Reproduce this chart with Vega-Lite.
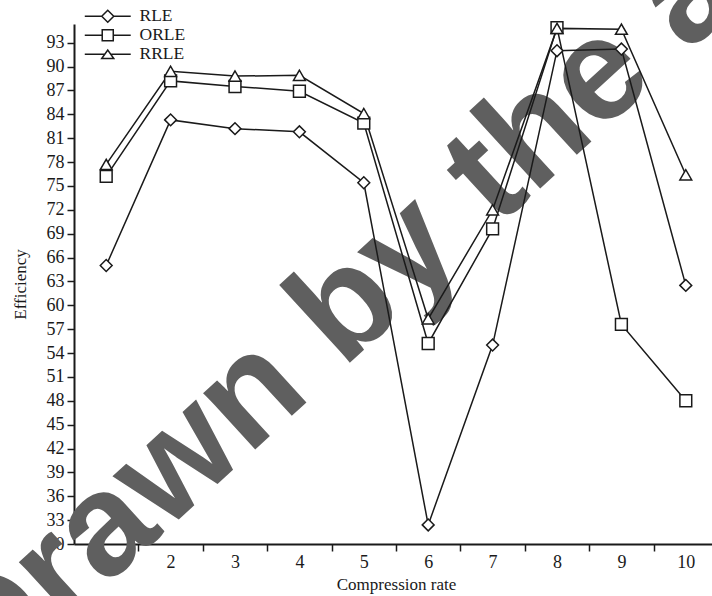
{
  "$schema": "https://vega.github.io/schema/vega-lite/v6.json",
  "width": 638,
  "height": 520,
  "autosize": {"type": "none"},
  "padding": {"left": 74, "top": 24, "right": 0, "bottom": 52},
  "background": "white",
  "config": {
    "view": {"stroke": null},
    "font": "Liberation Serif",
    "axis": {
      "grid": false,
      "zindex": 1,
      "domainColor": "#1a1a1a",
      "domainWidth": 2,
      "tickColor": "#1a1a1a",
      "tickWidth": 1.5,
      "tickSize": 7,
      "labelFont": "Liberation Serif",
      "labelFontSize": 18,
      "labelColor": "#1a1a1a",
      "labelFlush": false,
      "labelOverlap": false,
      "titleFont": "Liberation Serif",
      "titleFontSize": 17,
      "titleFontWeight": "normal",
      "titleColor": "#1a1a1a"
    }
  },
  "data": {
    "values": [
      {"rate": 1, "method": "RLE", "eff": 65.0},
      {"rate": 2, "method": "RLE", "eff": 83.3},
      {"rate": 3, "method": "RLE", "eff": 82.2},
      {"rate": 4, "method": "RLE", "eff": 81.8},
      {"rate": 5, "method": "RLE", "eff": 75.4},
      {"rate": 6, "method": "RLE", "eff": 32.4},
      {"rate": 7, "method": "RLE", "eff": 55.0},
      {"rate": 8, "method": "RLE", "eff": 92.0},
      {"rate": 9, "method": "RLE", "eff": 92.2},
      {"rate": 10, "method": "RLE", "eff": 62.5},
      {"rate": 1, "method": "ORLE", "eff": 76.2},
      {"rate": 2, "method": "ORLE", "eff": 88.2},
      {"rate": 3, "method": "ORLE", "eff": 87.5},
      {"rate": 4, "method": "ORLE", "eff": 86.9},
      {"rate": 5, "method": "ORLE", "eff": 82.9},
      {"rate": 6, "method": "ORLE", "eff": 55.2},
      {"rate": 7, "method": "ORLE", "eff": 69.6},
      {"rate": 8, "method": "ORLE", "eff": 94.9},
      {"rate": 9, "method": "ORLE", "eff": 57.6},
      {"rate": 10, "method": "ORLE", "eff": 48.0},
      {"rate": 1, "method": "RRLE", "eff": 77.7},
      {"rate": 2, "method": "RRLE", "eff": 89.4},
      {"rate": 3, "method": "RRLE", "eff": 88.8},
      {"rate": 4, "method": "RRLE", "eff": 88.9},
      {"rate": 5, "method": "RRLE", "eff": 84.1},
      {"rate": 6, "method": "RRLE", "eff": 58.3},
      {"rate": 7, "method": "RRLE", "eff": 72.0},
      {"rate": 8, "method": "RRLE", "eff": 94.8},
      {"rate": 9, "method": "RRLE", "eff": 94.7},
      {"rate": 10, "method": "RRLE", "eff": 76.4}
    ]
  },
  "resolve": {"scale": {"shape": "independent"}, "legend": {"shape": "independent"}},
  "layer": [
    {
      "data": {"values": [{"note": "Drawn by the author"}]},
      "mark": {
        "type": "text",
        "font": "Liberation Sans",
        "fontWeight": "bold",
        "fontSize": 145,
        "angle": 317.5,
        "align": "left",
        "baseline": "alphabetic",
        "fill": "#5f5f5f",
        "opacity": 1
      },
      "encoding": {
        "x": {"datum": -0.862, "type": "quantitative", "scale": {"domain": [0.5, 10.5], "range": [0, 644], "nice": false, "zero": false},
          "axis": {"title": "Compression rate", "values": [1, 2, 3, 4, 5, 6, 7, 8, 9, 10], "format": "d", "tickOffset": 32.2, "labelOffset": -32.2, "labelPadding": 2, "titlePadding": 5}},
        "y": {"datum": 10.91, "type": "quantitative", "scale": {"domain": [30, 95.35], "nice": false, "zero": false},
          "axis": {"title": "Efficiency", "values": [30, 33, 36, 39, 42, 45, 48, 51, 54, 57, 60, 63, 66, 69, 72, 75, 78, 81, 84, 87, 90, 93], "labelPadding": 3, "titlePadding": 17}},
        "text": {"field": "note", "type": "nominal"}
      }
    },
    {
      "mark": {"type": "line", "color": "#1a1a1a", "strokeWidth": 1.5},
      "encoding": {
        "x": {"field": "rate", "type": "quantitative", "scale": {"domain": [0.5, 10.5], "range": [0, 644], "nice": false, "zero": false},
          "axis": {"title": "Compression rate", "values": [1, 2, 3, 4, 5, 6, 7, 8, 9, 10], "format": "d", "tickOffset": 32.2, "labelOffset": -32.2, "labelPadding": 2, "titlePadding": 5}},
        "y": {"field": "eff", "type": "quantitative", "scale": {"domain": [30, 95.35], "nice": false, "zero": false},
          "axis": {"title": "Efficiency", "values": [30, 33, 36, 39, 42, 45, 48, 51, 54, 57, 60, 63, 66, 69, 72, 75, 78, 81, 84, 87, 90, 93], "labelPadding": 3, "titlePadding": 17}},
        "detail": {"field": "method", "type": "nominal"}
      }
    },
    {
      "mark": {"type": "point", "filled": true, "fill": "white", "stroke": "#1a1a1a", "strokeWidth": 1.5, "size": 140, "opacity": 1},
      "encoding": {
        "x": {"field": "rate", "type": "quantitative", "scale": {"domain": [0.5, 10.5], "range": [0, 644], "nice": false, "zero": false},
          "axis": {"title": "Compression rate", "values": [1, 2, 3, 4, 5, 6, 7, 8, 9, 10], "format": "d", "tickOffset": 32.2, "labelOffset": -32.2, "labelPadding": 2, "titlePadding": 5}},
        "y": {"field": "eff", "type": "quantitative", "scale": {"domain": [30, 95.35], "nice": false, "zero": false},
          "axis": {"title": "Efficiency", "values": [30, 33, 36, 39, 42, 45, 48, 51, 54, 57, 60, 63, 66, 69, 72, 75, 78, 81, 84, 87, 90, 93], "labelPadding": 3, "titlePadding": 17}},
        "shape": {
          "field": "method",
          "type": "nominal",
          "scale": {"domain": ["RLE", "ORLE", "RRLE"], "range": ["diamond", "square", "triangle-up"]},
          "legend": null
        }
      }
    },
    {
      "mark": {"type": "point", "filled": false, "stroke": "#1a1a1a", "strokeWidth": 1.5, "size": 144, "opacity": 0},
      "encoding": {
        "x": {"field": "rate", "type": "quantitative", "scale": {"domain": [0.5, 10.5], "range": [0, 644], "nice": false, "zero": false},
          "axis": {"title": "Compression rate", "values": [1, 2, 3, 4, 5, 6, 7, 8, 9, 10], "format": "d", "tickOffset": 32.2, "labelOffset": -32.2, "labelPadding": 2, "titlePadding": 5}},
        "y": {"field": "eff", "type": "quantitative", "scale": {"domain": [30, 95.35], "nice": false, "zero": false},
          "axis": {"title": "Efficiency", "values": [30, 33, 36, 39, 42, 45, 48, 51, 54, 57, 60, 63, 66, 69, 72, 75, 78, 81, 84, 87, 90, 93], "labelPadding": 3, "titlePadding": 17}},
        "shape": {
          "field": "method",
          "type": "nominal",
          "scale": {
            "domain": ["RLE", "ORLE", "RRLE"],
            "range": [
              "M-3.83,0L-1,0M1,0L3.83,0M-1,0L0,-1L1,0L0,1Z",
              "M-3.83,0L-0.92,0M0.92,0L3.83,0M-0.92,-0.92L0.92,-0.92L0.92,0.92L-0.92,0.92Z",
              "M-3.83,0L-0.5,0M0.5,0L3.83,0M-1,0.7L0,-0.7L1,0.7Z"
            ]
          },
          "legend": {
            "orient": "none",
            "legendX": 25,
            "legendY": -16.5,
            "title": null,
            "padding": 0,
            "labelFont": "Liberation Serif",
            "labelFontSize": 17.5,
            "labelColor": "#1a1a1a",
            "labelOffset": 23,
            "symbolSize": 144,
            "symbolStrokeWidth": 1.5,
            "symbolStrokeColor": "#1a1a1a",
            "symbolFillColor": "white",
            "symbolOpacity": 1,
            "rowPadding": 0,
            "encode": {
              "symbols": {
                "stroke": {"value": "#1a1a1a"},
                "fill": {"value": "white"},
                "strokeWidth": {"value": 1.5},
                "opacity": {"value": 1}
              }
            }
          }
        }
      }
    }
  ]
}
